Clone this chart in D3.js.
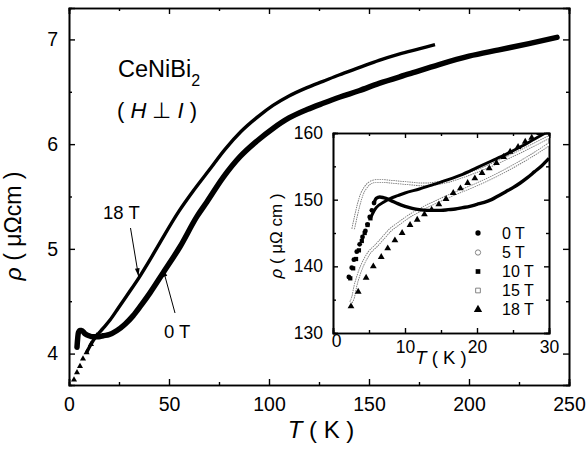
<!DOCTYPE html>
<html>
<head>
<meta charset="utf-8">
<script src="https://cdn.jsdelivr.net/npm/d3@7"></script>
<style>
  body { margin: 0; background: #fff; }
  text { font-family: "Liberation Sans", Arial, sans-serif; fill: #000; }
  .axis path, .axis line { stroke: #000; }
</style>
</head>
<body>
<svg id="chart" width="587" height="453"></svg>
<script>
// main panel: resistivity vs temperature
const mainT0 = [4, 4.7, 5.5, 6.3, 8, 10, 12, 15, 17, 20, 24, 28, 32, 36, 40.5, 47, 55.5, 64, 69, 77, 85.5, 94, 102, 110, 119, 127, 135.5, 145, 155, 170, 185, 200, 215, 230, 244]
const mainRho0 = [4.06, 4.20, 4.22, 4.22, 4.19, 4.17, 4.16, 4.16, 4.17, 4.18, 4.22, 4.28, 4.36, 4.46, 4.58, 4.77, 5.02, 5.31, 5.45, 5.68, 5.88, 6.03, 6.15, 6.25, 6.33, 6.39, 6.45, 6.51, 6.58, 6.67, 6.76, 6.84, 6.90, 6.96, 7.02]
const mainT18 = [2.5, 4, 5.5, 7, 8.8, 11, 13.8, 17, 20.5, 24.5, 28.8, 35.5, 40, 45.5, 55, 62, 70, 78, 86, 95, 102, 110, 119, 127, 135, 145, 155, 165, 175, 183]
const mainRho18 = [3.75, 3.82, 3.88, 3.95, 4.01, 4.09, 4.17, 4.24, 4.32, 4.43, 4.55, 4.74, 4.88, 5.06, 5.36, 5.55, 5.75, 5.95, 6.12, 6.27, 6.37, 6.46, 6.54, 6.60, 6.66, 6.73, 6.80, 6.86, 6.91, 6.95]

// inset: low temperature, several fields
const inT0 = [2.2, 2.6, 2.9, 3.3, 3.7, 4.1, 4.5, 4.8, 5.1, 5.4, 5.7, 6.0, 6.5, 7, 8, 9, 10, 11, 12, 13, 14, 15, 16, 17, 18, 19, 20, 21, 22, 23, 24, 25, 26, 27, 28, 29, 30]
const inRho0 = [138.4, 139.8, 141.0, 142.2, 143.3, 144.4, 145.3, 146.3, 147.4, 148.4, 149.5, 150.2, 150.4, 150.3, 149.9, 149.4, 149.0, 148.7, 148.5, 148.4, 148.4, 148.4, 148.5, 148.6, 148.8, 149.0, 149.3, 149.6, 150.0, 150.6, 151.2, 151.8, 152.5, 153.3, 154.2, 155.1, 156.2]
const inT5 = [2.8, 3.2, 3.6, 4.0, 4.5, 5.0, 5.5, 6, 7, 8, 9, 10, 11, 12, 13, 14, 16, 18, 20, 22, 24, 26, 28, 30]
const inRho5 = [145.6, 147.6, 149.4, 150.8, 151.8, 152.4, 152.7, 152.8, 152.8, 152.7, 152.6, 152.5, 152.4, 152.3, 152.3, 152.4, 152.8, 153.5, 154.3, 155.2, 156.2, 157.2, 158.3, 159.4]
const inT10 = [2.4, 2.8, 3.2, 3.6, 4.0, 4.4, 4.8, 5.2, 5.6, 6, 7, 8, 9, 10, 12, 14, 16, 18, 20, 22, 24, 26, 28, 30]
const inRho10 = [138.2, 139.7, 141.1, 142.4, 143.8, 145.0, 146.2, 147.2, 148.1, 148.8, 149.6, 150.2, 150.6, 151.0, 151.6, 152.3, 153.0, 153.8, 154.8, 155.8, 156.8, 157.9, 159.1, 160.3]
const inT15 = [2.5, 2.8, 3.1, 3.5, 4, 4.5, 5, 6, 7, 8, 9, 10, 11, 12, 13, 14, 15, 16, 18, 20, 22, 24, 26, 28, 30]
const inRho15 = [134.6, 135.4, 137.0, 138.5, 140.0, 141.1, 142.0, 143.1, 144.3, 145.5, 146.3, 147.1, 147.8, 148.4, 149.0, 149.5, 150.0, 150.5, 151.4, 152.3, 153.3, 154.4, 155.6, 156.9, 158.3]
const inT18 = [2.5, 3.5, 4.6, 5.6, 6.7, 7.6, 8.6, 9.6, 10.7, 11.7, 12.7, 13.7, 14.7, 15.7, 16.7, 17.7, 18.7, 19.7, 20.7, 21.7, 22.7, 23.7, 24.6, 25.7, 26.7, 27.6, 28.7]
const inRho18 = [134.0, 136.2, 138.3, 140.0, 141.4, 142.7, 143.9, 145.0, 146.2, 147.0, 147.8, 148.5, 149.3, 150.1, 151.0, 151.7, 152.5, 153.2, 154.0, 154.7, 155.5, 156.4, 157.2, 157.9, 158.7, 159.3, 160.0]

const legendFields = ["0 T", "5 T", "10 T", "15 T", "18 T"]
const zip = (xs, ys) => xs.map((x, i) => ({ t: x, r: ys[i] }))

const svg = d3.select("#chart")

// ---------- main panel ----------
const x = d3.scaleLinear().domain([0, 250]).range([69, 569])
const y = d3.scaleLinear().domain([3.7, 7.3]).range([385, 8])

const defs = svg.append("defs")
defs.append("clipPath").attr("id", "clipMain").append("rect")
    .attr("x", 69).attr("y", 8).attr("width", 500).attr("height", 377)

function frameAxes(g, xs, ys, xMajor, xMinor, yMajor, yMinor, big, small, fontSize, xFmt, yFmt) {
    const [x0, x1] = xs.range(), [y0, y1] = ys.range()
    const add = (axis, tr) => g.append("g").attr("class", "axis").attr("transform", tr).call(axis)
    const bottom = add(d3.axisBottom(xs).tickValues(xMajor).tickSize(-big).tickPadding(big + 6).tickFormat(xFmt), `translate(0,${y0})`)
    add(d3.axisBottom(xs).tickValues(xMinor).tickSize(-small).tickFormat(""), `translate(0,${y0})`)
    add(d3.axisTop(xs).tickValues(xMajor).tickSize(-big).tickFormat(""), `translate(0,${y1})`)
    add(d3.axisTop(xs).tickValues(xMinor).tickSize(-small).tickFormat(""), `translate(0,${y1})`)
    const left = add(d3.axisLeft(ys).tickValues(yMajor).tickSize(-big).tickPadding(big + 5).tickFormat(yFmt), `translate(${x0},0)`)
    add(d3.axisLeft(ys).tickValues(yMinor).tickSize(-small).tickFormat(""), `translate(${x0},0)`)
    add(d3.axisRight(ys).tickValues(yMajor).tickSize(-big).tickFormat(""), `translate(${x1},0)`)
    add(d3.axisRight(ys).tickValues(yMinor).tickSize(-small).tickFormat(""), `translate(${x1},0)`)
    g.selectAll(".axis path").attr("stroke-width", 1.6)
    g.selectAll(".axis line").attr("stroke-width", 1.4)
    g.selectAll(".axis text").style("font-size", fontSize + "px").style("font-family", "Liberation Sans, Arial, sans-serif")
    return { bottom, left }
}

const mainG = svg.append("g")
frameAxes(mainG, x, y, [0, 50, 100, 150, 200, 250], [25, 75, 125, 175, 225], [4, 5, 6, 7], [4.5, 5.5, 6.5],
    6, 3, 19.5, d3.format("d"), d3.format("d"))

const curve = d3.line().x(d => x(d.t)).y(d => y(d.r)).curve(d3.curveMonotoneX)
const plotMain = mainG.append("g").attr("clip-path", "url(#clipMain)")

const d18 = zip(mainT18, mainRho18)
plotMain.append("path").datum(d18.filter(d => d.t >= 8))
    .attr("d", curve).attr("fill", "none").attr("stroke", "#000").attr("stroke-width", 3.4)
plotMain.selectAll(".tri").data(d18.filter(d => d.t < 14)).enter().append("path")
    .attr("transform", d => `translate(${x(d.t)},${y(d.r)})`)
    .attr("d", d3.symbol(d3.symbolTriangle, 16))
plotMain.append("path").datum(zip(mainT0, mainRho0))
    .attr("d", curve).attr("fill", "none").attr("stroke", "#000").attr("stroke-width", 5.5)
    .attr("stroke-linecap", "round").attr("stroke-linejoin", "round")

// annotations
svg.append("text").attr("x", 118).attr("y", 77).style("font-size", "23.5px")
    .text("CeNiBi").append("tspan").attr("dy", 9).style("font-size", "16px").text("2")
const hi = svg.append("text").attr("x", 117).attr("y", 118).style("font-size", "22px")
hi.append("tspan").text("( ")
hi.append("tspan").style("font-style", "italic").text("H")
hi.append("tspan").text(" ⊥ ")
hi.append("tspan").style("font-style", "italic").text("I")
hi.append("tspan").text(" )")

svg.append("text").attr("x", 103).attr("y", 219).style("font-size", "18.5px").text("18 T")
svg.append("text").attr("x", 164).attr("y", 338).style("font-size", "18.5px").text("0 T")

const arrowLine = (x1, y1, x2, y2) => {
    svg.append("line").attr("x1", x1).attr("y1", y1).attr("x2", x2).attr("y2", y2)
        .attr("stroke", "#000").attr("stroke-width", 1)
    const a = Math.atan2(y2 - y1, x2 - x1)
    const L = 8, w = 0.3
    svg.append("path").attr("d", `M${x2},${y2}L${x2 - L * Math.cos(a - w)},${y2 - L * Math.sin(a - w)}L${x2 - L * Math.cos(a + w)},${y2 - L * Math.sin(a + w)}Z`)
        .attr("fill", "#000")
}
arrowLine(130.5, 228, 138.5, 276)
arrowLine(175, 313, 163, 269)

// axis titles
const xt = svg.append("text").attr("x", 321).attr("y", 438).attr("text-anchor", "middle").style("font-size", "24px")
xt.append("tspan").style("font-style", "italic").text("T")
xt.append("tspan").text(" ( K )")
const yt = svg.append("text").attr("transform", "translate(21,226) rotate(-90)").attr("text-anchor", "middle").style("font-size", "23px")
yt.append("tspan").style("font-style", "italic").text("ρ")
yt.append("tspan").text(" ( μΩcm )")

// ---------- inset ----------
const ix = d3.scaleLinear().domain([0, 30]).range([333, 549])
const iy = d3.scaleLinear().domain([130, 160]).range([333, 133])

svg.append("rect").attr("x", 333).attr("y", 133).attr("width", 216).attr("height", 200).attr("fill", "#fff")
defs.append("clipPath").attr("id", "clipInset").append("rect")
    .attr("x", 333).attr("y", 133).attr("width", 216).attr("height", 200)

const insetG = svg.append("g")
const ins = frameAxes(insetG, ix, iy, [0, 10, 20, 30], [5, 15, 25], [130, 140, 150, 160], [135, 145, 155],
    5, 3, 17.5, d3.format("d"), d3.format("d"))
ins.bottom.selectAll("text").attr("dy", "0.5em")
ins.bottom.selectAll(".tick").filter(d => d === 0).select("text").attr("dx", 3).attr("dy", "0.15em")

const icurve = d3.line().x(d => ix(d.t)).y(d => iy(d.r)).curve(d3.curveMonotoneX)
const plotIn = insetG.append("g").attr("clip-path", "url(#clipInset)")

// open-symbol series (5 T, 15 T): grey double-edged traces
function openSeries(data) {
    plotIn.append("path").datum(data).attr("d", icurve).attr("fill", "none")
        .attr("stroke", "#7a7a7a").attr("stroke-width", 3.6).attr("stroke-dasharray", "1.5,0.8")
    plotIn.append("path").datum(data).attr("d", icurve).attr("fill", "none")
        .attr("stroke", "#fff").attr("stroke-width", 1.8)
}
openSeries(zip(inT15, inRho15))
openSeries(zip(inT5, inRho5))

// 18 T triangles
plotIn.selectAll(".t18").data(zip(inT18, inRho18)).enter().append("path")
    .attr("transform", d => `translate(${ix(d.t)},${iy(d.r)})`)
    .attr("d", d3.symbol(d3.symbolTriangle, 20))

// 10 T squares + 0 T circles (solid)
const d10 = zip(inT10, inRho10), d0 = zip(inT0, inRho0)
plotIn.append("path").datum(d10.filter(d => d.t >= 5.2)).attr("d", icurve).attr("fill", "none")
    .attr("stroke", "#000").attr("stroke-width", 3)
plotIn.selectAll(".s10").data(d10.filter(d => d.t < 5.6)).enter().append("path")
    .attr("transform", d => `translate(${ix(d.t)},${iy(d.r)})`)
    .attr("d", d3.symbol(d3.symbolSquare, 18))
plotIn.append("path").datum(d0.filter(d => d.t >= 5.7)).attr("d", icurve).attr("fill", "none")
    .attr("stroke", "#000").attr("stroke-width", 3.4)
plotIn.selectAll(".c0").data(d0.filter(d => d.t < 6)).enter().append("circle")
    .attr("cx", d => ix(d.t)).attr("cy", d => iy(d.r)).attr("r", 2.4)

// legend
const legY = [233, 252.5, 271.5, 290.5, 309.5]
const legSym = [d3.symbolCircle, d3.symbolCircle, d3.symbolSquare, d3.symbolSquare, d3.symbolTriangle]
const legFill = ["#000", "none", "#000", "none", "#000"]
legendFields.forEach((lab, i) => {
    svg.append("path").attr("transform", `translate(478,${legY[i]})`)
        .attr("d", d3.symbol(legSym[i], i === 4 ? 30 : 22))
        .attr("fill", legFill[i]).attr("stroke", legFill[i] === "none" ? "#777" : "none").attr("stroke-width", 0.9)
    svg.append("text").attr("x", 502).attr("y", legY[i] + 5.5)
        .style("font-size", "16px").text(lab)
})

// inset axis titles
const ixt = svg.append("text").attr("x", 441).attr("y", 364).attr("text-anchor", "middle").style("font-size", "18.5px")
ixt.append("tspan").style("font-style", "italic").text("T")
ixt.append("tspan").text(" ( K )")
const iyt = svg.append("text").attr("transform", "translate(282,236) rotate(-90)").attr("text-anchor", "middle").style("font-size", "17px")
iyt.append("tspan").style("font-style", "italic").text("ρ")
iyt.append("tspan").text(" ( μΩ cm )")
</script>
</body>
</html>
